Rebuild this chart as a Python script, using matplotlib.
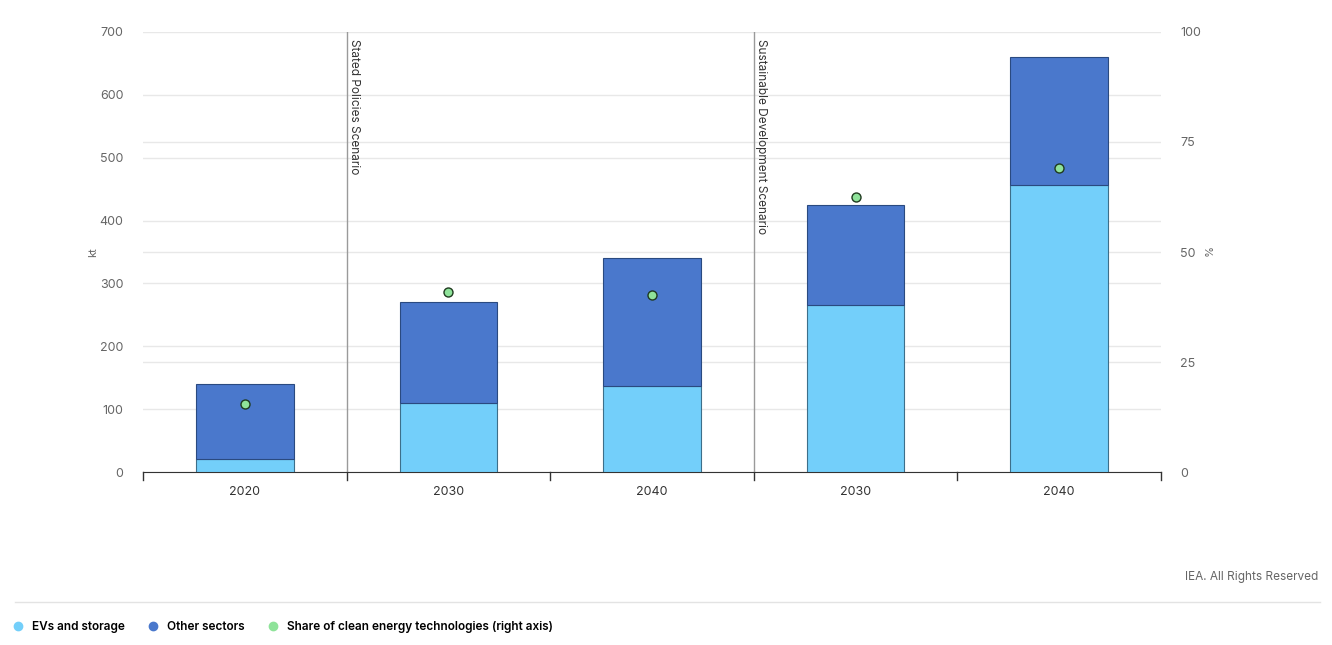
import matplotlib.pyplot as plt
from matplotlib.lines import Line2D

plt.rcParams['font.family'] = ['Inter', 'DejaVu Sans']

# data
labels = ['2020', '2030', '2040', '2030', '2040']
evs = [20, 110, 137, 265, 457]
other = [120, 160, 204, 160, 204]
share = [15.5, 41.0, 40.2, 62.6, 69.2]
scenarios = ['Stated Policies Scenario', 'Sustainable Development Scenario']

c_ev = '#73cffa'
c_other = '#4a78cc'
c_share = '#8fe39a'
grid_c = '#e8e8e8'
tick_c = '#666666'

fig = plt.figure(figsize=(13.32, 6.45), dpi=100)
ax = fig.add_axes([0.1074, 0.2682, 0.7642, 0.6822])
ax2 = ax.twinx()

x = list(range(len(labels)))
ax.bar(x, evs, width=0.48, color=c_ev, edgecolor='#3d6f8a', linewidth=0.8, zorder=3)
ax.bar(x, other, width=0.48, bottom=evs, color=c_other, edgecolor='#2a4a80', linewidth=0.8, zorder=3)
ax2.scatter(x, share, s=42, color=c_share, edgecolor='#1f3a1f', linewidth=1.0, zorder=5)

ax.set_xlim(-0.5, len(labels) - 0.5)
ax.set_ylim(0, 700)
ax2.set_ylim(0, 100)
ax.set_yticks(range(0, 701, 100))
ax2.set_yticks([0, 25, 50, 75, 100])

# both grids sit behind the bars
ax.yaxis.grid(True, color=grid_c, linewidth=1, zorder=0)
for v in [25, 50, 75]:
    ax.axhline(v * 7, color=grid_c, linewidth=1, zorder=0)
ax.set_axisbelow(True)
ax2.set_zorder(ax.get_zorder() + 1)
ax2.patch.set_visible(False)

for a in (ax, ax2):
    for s in a.spines.values():
        s.set_visible(False)
ax.spines['bottom'].set_visible(True)
ax.spines['bottom'].set_color('#333333')

ax.set_xticks(x)
ax.set_xticklabels(labels, fontsize=9, color='#333333')
ax.tick_params(axis='x', length=0, pad=10)
for b in [i - 0.5 for i in range(len(labels) + 1)]:
    ax.plot([b, b], [0, -0.018], transform=ax.get_xaxis_transform(), color='#333333',
            linewidth=1, clip_on=False)

ax.tick_params(axis='y', length=0, pad=14, labelsize=9, labelcolor=tick_c)
ax2.tick_params(axis='y', length=0, pad=14, labelsize=9, labelcolor=tick_c)
ax.set_ylabel('kt', fontsize=8, color=tick_c, labelpad=1)
ax2.set_ylabel('%', fontsize=8, color=tick_c, rotation=-90, labelpad=7)

for pos, name in zip([0.5, 2.5], scenarios):
    ax.axvline(pos, color='#9a9a9a', linewidth=1, zorder=4)
    ax.text(pos + 0.005, 0.985, name, transform=ax.get_xaxis_transform(), rotation=-90,
            va='top', ha='left', fontsize=8.5, color='#333333')

fig.text(0.99, 0.105, 'IEA. All Rights Reserved', ha='right', va='center', fontsize=8.5, color='#666666')
fig.add_artist(Line2D([0.011, 0.991], [0.067, 0.067], color='#e3e3e3', linewidth=1))

handles = [Line2D([], [], marker='o', linestyle='', markersize=6, color=c) for c in (c_ev, c_other, c_share)]
fig.legend(handles, ['EVs and storage', 'Other sectors', 'Share of clean energy technologies (right axis)'],
           loc='center left', bbox_to_anchor=(0.0, 0.028), ncol=3, frameon=False,
           handlelength=1.2, handletextpad=0.6, columnspacing=1.8,
           prop={'weight': 'semibold', 'size': 8.5})

fig.savefig('out.png', dpi=100)
